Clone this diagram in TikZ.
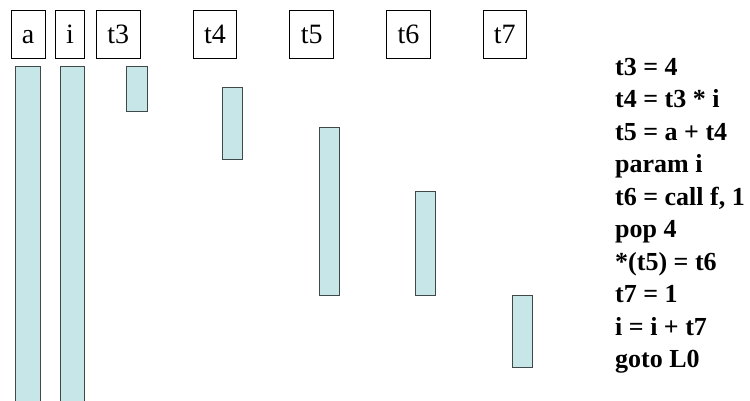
\documentclass[tikz,border=0pt]{standalone}
\usepackage{fontspec}
\setmainfont{Liberation Serif}

\definecolor{livefill}{RGB}{198,230,232}
\definecolor{livedraw}{RGB}{64,72,72}

\begin{document}
\begin{tikzpicture}[x=1pt,y=-1pt,
  var/.style={draw,line width=0.8pt,inner xsep=11pt,inner ysep=0pt,minimum height=48pt,text height=20pt,text depth=2pt,font=\fontsize{28}{28}\selectfont},
  live/.style={draw=livedraw,fill=livefill,line width=1pt,inner sep=0pt,minimum width=20pt,anchor=north},
  code/.style={inner sep=0pt,anchor=base west,font=\fontsize{26}{26}\selectfont\bfseries}]
\useasboundingbox (0,0) rectangle (750,400);

% variable names
\node[var] at (28.2,34) (var-a) {a};
\node[var] at (70,34) (var-i) {i};
\node[var] at (118.3,34) (var-t3) {t3};
\node[var] at (215,34) (var-t4) {t4};
\node[var] at (311.7,34) (var-t5) {t5};
\node[var] at (408.5,34) (var-t6) {t6};
\node[var] at (504.8,34) (var-t7) {t7};

% live ranges
\node[live,minimum width=24.5pt,minimum height=345pt] at (28,65.7) (live-a) {};
\node[live,minimum width=24.5pt,minimum height=345pt] at (72.5,65.7) (live-i) {};
\node[live,minimum width=21pt,minimum height=45.3pt] at (136.5,65.7) (live-t3) {};
\node[live,minimum height=72.3pt] at (232.8,86.7) (live-t4) {};
\node[live,minimum height=168pt] at (329.3,127) (live-t5) {};
\node[live,minimum height=104pt] at (425.5,191) (live-t6) {};
\node[live,minimum height=72.6pt] at (522,294.7) (live-t7) {};

% three-address code
\foreach \instr [count=\k from 0] in {t3 = 4, t4 = t3 * i, t5 = a + t4, param i,
    {t6 = call f, 1}, pop 4, *(t5) = t6, t7 = 1, i = i + t7, goto L0}
  \node[code] at (615,75+32.5*\k) (instr-\k) {\instr};

\end{tikzpicture}
\end{document}
